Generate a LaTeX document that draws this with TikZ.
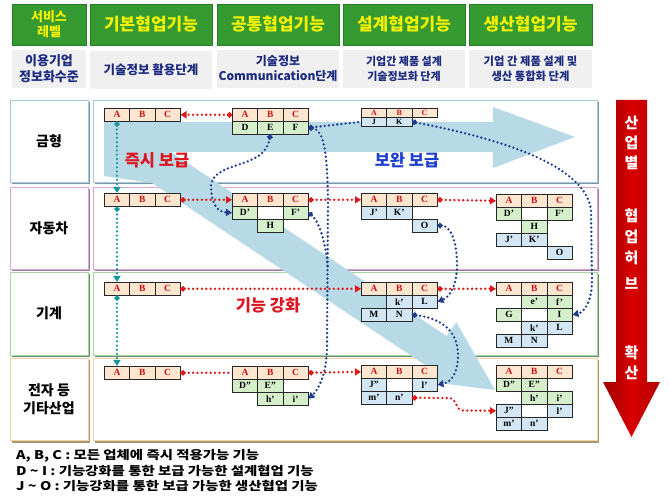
\documentclass[tikz,border=0pt]{standalone}
\usepackage{fontspec}
\setmainfont{Liberation Serif}
\newfontfamily\kr{Noto Sans CJK KR}
\newfontfamily\krw{Noto Sans CJK KR}[FakeStretch=1.2]
\usetikzlibrary{arrows.meta}
\definecolor{hdrgreen}{HTML}{369A33}
\definecolor{hdrborder}{HTML}{2B7A28}
\definecolor{hdrtext}{HTML}{F2F200}
\definecolor{navy}{HTML}{1C2A80}
\definecolor{peach}{HTML}{FCE6CF}
\definecolor{cgreen}{HTML}{D6EFCB}
\definecolor{cblue}{HTML}{D2E6F4}
\definecolor{cred}{HTML}{D01010}
\definecolor{bandblue}{HTML}{B7DAE6}
\definecolor{dotblue}{HTML}{1F3C8F}
\definecolor{dotteal}{HTML}{17989A}
\definecolor{dotred}{HTML}{E01818}
\definecolor{txtblue}{HTML}{1E3FD0}
\definecolor{txtred}{HTML}{E0141E}
\definecolor{rAb}{HTML}{A8C8DC}\definecolor{rAs}{HTML}{7F95A8}
\definecolor{rBb}{HTML}{D9A6D4}\definecolor{rBs}{HTML}{9A7E98}
\definecolor{rCb}{HTML}{A6D7A0}\definecolor{rCs}{HTML}{6E8C6B}
\definecolor{rDb}{HTML}{F1D3A3}\definecolor{rDs}{HTML}{A99677}
\newcommand{\cl}[5]{\node[cel,#4] (#1) at (#2,#3) {#5};}
\begin{document}
\begin{tikzpicture}[x=1pt,y=-1pt,
  hdr/.style={draw=hdrborder, line width=0.8pt, fill=hdrgreen, text=hdrtext, font=\kr\bfseries\fontsize{17}{20}\selectfont, inner sep=0pt, minimum height=41pt, align=center},
  sub/.style={fill=black!6, text=navy, font=\kr\bfseries\fontsize{11}{14}\selectfont, align=center, inner sep=0pt, minimum height=38pt},
  lbl/.style={fill=white, draw=#1, line width=0.8pt, minimum width=78pt, font=\kr\bfseries\fontsize{14}{18}\selectfont, align=center, inner sep=0pt},
  cont/.style={fill=white, draw=#1, line width=0.8pt, minimum width=504pt, inner sep=0pt},
  cel/.style={draw=black!85, line width=0.6pt, anchor=north west, minimum width=25.3pt, minimum height=13pt, inner sep=0pt, font=\bfseries\fontsize{9.5}{10}\selectfont},
  pch/.style={fill=peach, text=cred},
  grn/.style={fill=cgreen},
  blu/.style={fill=cblue},
  wht/.style={fill=white},
  sm/.style={minimum height=9pt, font=\bfseries\fontsize{8}{8}\selectfont},
  tealdot/.style={draw=dotteal, line width=2.5pt, dash pattern=on 0pt off 4.2pt, line cap=round},
  reddot/.style={draw=dotred, line width=2.6pt, dash pattern=on 0pt off 4.4pt, line cap=round},
  bluedot/.style={draw=dotblue, line width=2.6pt, dash pattern=on 0pt off 4.2pt, line cap=round},
  big/.style={font=\kr\bfseries\fontsize{16.5}{18}\selectfont, inner sep=0pt},
  vch/.style={text=white, font=\kr\bfseries\fontsize{15}{16}\selectfont, inner sep=0pt},
  leg/.style={anchor=west, font=\krw\bfseries\fontsize{12}{13}\selectfont, inner sep=0pt}
]
\useasboundingbox (0,0) rectangle (669,502);
% header
\node[hdr, minimum width=74pt, font=\kr\bfseries\fontsize{13}{15}\selectfont] (h1) at (49,24.5) {서비스\\레벨};
\node[hdr, minimum width=122pt] (h2) at (151,24.5) {기본협업기능};
\node[hdr, minimum width=122pt] (h3) at (278,24.5) {공통협업기능};
\node[hdr, minimum width=122pt] (h4) at (404,24.5) {설계협업기능};
\node[hdr, minimum width=123pt] (h5) at (530.5,24.5) {생산협업기능};
% sub header
\node[sub, minimum width=74pt, font=\kr\bfseries\fontsize{13}{16}\selectfont] (s1) at (49,69) {이용기업\\정보화수준};
\node[sub, minimum width=122pt, font=\kr\bfseries\fontsize{12.5}{14}\selectfont] (s2) at (151,70) {기술정보 활용단계};
\node[sub, minimum width=122pt, font=\kr\bfseries\fontsize{12}{15}\selectfont] (s3) at (278,69) {기술정보\\Communication단계};
\node[sub, minimum width=122pt, font=\kr\bfseries\fontsize{11}{15.5}\selectfont] (s4) at (404,69) {기업간 제품 설계\\기술정보화 단계};
\node[sub, minimum width=123pt, font=\kr\bfseries\fontsize{11.3}{15.5}\selectfont] (s5) at (530.5,69) {기업 간 제품 설계 및\\생산 통합화 단계};
% row shadows
\fill[rAs] (11.5,102.5) rectangle (89.5,184.5); \fill[rAs] (94.5,102.5) rectangle (598.5,184.5);
\fill[rBs] (11.5,189.5) rectangle (89.5,271.5); \fill[rBs] (94.5,189.5) rectangle (598.5,271.5);
\fill[rCs] (11.5,274.5) rectangle (89.5,357.5); \fill[rCs] (94.5,274.5) rectangle (598.5,357.5);
\fill[rDs] (11.5,360.5) rectangle (89.5,442.5); \fill[rDs] (94.5,360.5) rectangle (598.5,442.5);
% row boxes
\node[lbl=rAb, minimum height=82pt] (l1) at (49,141) {금형};
\node[cont=rAb, minimum height=82pt] (c1) at (345,141) {};
\node[lbl=rBb, minimum height=82pt] (l2) at (49,228) {자동차};
\node[cont=rBb, minimum height=82pt] (c2) at (345,228) {};
\node[lbl=rCb, minimum height=83pt] (l3) at (49,313.5) {기계};
\node[cont=rCb, minimum height=83pt] (c3) at (345,313.5) {};
\node[lbl=rDb, minimum height=82pt] (l4) at (49,399) {전자 등\\기타산업};
\node[cont=rDb, minimum height=82pt] (c4) at (345,399) {};
% big light-blue arrows
\fill[bandblue] (104,122) -- (493,122) -- (493,107) -- (575,137) -- (493,168) -- (493,152) -- (104,152) -- cycle;
\fill[bandblue] (104,122) -- (126,122) -- (446.8,336.2) -- (456.2,322.1) -- (495,390) -- (417.4,380.3) -- (426.8,366.2) -- (152,183) -- (104,176) -- cycle;
% red arrow
\shade[left color=red!62!black, right color=red!70!black, middle color=red!85!black]
  (616,100) -- (647,100) -- (647,382) -- (660,382) -- (631.5,437) -- (603,382) -- (616,382) -- cycle;
\node[vch] (v1) at (631.5,123) {산};
\node[vch] (v2) at (631.5,143) {업};
\node[vch] (v3) at (631.5,163) {별};
\node[vch] (v4) at (631.5,216) {협};
\node[vch] (v5) at (631.5,237) {업};
\node[vch] (v6) at (631.5,258) {허};
\node[vch] (v7) at (631.5,284) {브};
\node[vch] (v8) at (631.5,353) {확};
\node[vch] (v9) at (631.5,373) {산};
% labels
\node[big, text=txtred] (k1) at (157,160) {즉시 보급};
\node[big, text=txtblue] (k2) at (407,160) {보완 보급};
\node[big, text=txtred] (k3) at (268,305) {기능 강화};
% tables row 1
\cl{t11a}{104}{108}{pch}{A}\cl{t11b}{129.3}{108}{pch}{B}\cl{t11c}{154.6}{108}{pch}{C}
\cl{t12a}{232}{108}{pch}{A}\cl{t12b}{257.3}{108}{pch}{B}\cl{t12c}{282.6}{108}{pch}{C}
\cl{t12d}{232}{121}{grn}{D}\cl{t12e}{257.3}{121}{grn}{E}\cl{t12f}{282.6}{121}{grn}{F}
\cl{t14a}{361}{108}{pch,sm}{A}\cl{t14b}{386.3}{108}{pch,sm}{B}\cl{t14c}{411.6}{108}{pch,sm}{C}
\cl{t14j}{361}{117}{blu,sm}{J}\cl{t14k}{386.3}{117}{blu,sm}{K}
% row 2
\cl{t21a}{104}{193}{pch}{A}\cl{t21b}{129.3}{193}{pch}{B}\cl{t21c}{154.6}{193}{pch}{C}
\cl{t22a}{232}{193}{pch}{A}\cl{t22b}{257.3}{193}{pch}{B}\cl{t22c}{282.6}{193}{pch}{C}
\cl{t22d}{232}{206}{grn}{D’}\cl{t22x}{257.3}{206}{wht}{}\cl{t22f}{282.6}{206}{grn}{F’}
\cl{t22h}{257.3}{219}{grn}{H}
\cl{t23a}{361}{193}{pch}{A}\cl{t23b}{386.3}{193}{pch}{B}\cl{t23c}{411.6}{193}{pch}{C}
\cl{t23j}{361}{206}{blu}{J’}\cl{t23k}{386.3}{206}{blu}{K’}
\cl{t23o}{411.6}{219}{blu}{O}
\cl{t24a}{496}{194}{pch}{A}\cl{t24b}{521.3}{194}{pch}{B}\cl{t24c}{546.6}{194}{pch}{C}
\cl{t24d}{496}{207}{grn}{D’}\cl{t24x}{521.3}{207}{wht}{}\cl{t24f}{546.6}{207}{grn}{F’}
\cl{t24h}{521.3}{220}{grn}{H}
\cl{t24j}{496}{233}{blu}{J’}\cl{t24k}{521.3}{233}{blu}{K’}
\cl{t24o}{546.6}{246}{blu}{O}
% row 3
\cl{t31a}{104}{282}{pch}{A}\cl{t31b}{129.3}{282}{pch}{B}\cl{t31c}{154.6}{282}{pch}{C}
\cl{t33a}{361}{282}{pch}{A}\cl{t33b}{386.3}{282}{pch}{B}\cl{t33c}{411.6}{282}{pch}{C}
\cl{t33k}{386.3}{295}{blu}{k’}\cl{t33l}{411.6}{295}{blu}{L}
\cl{t33m}{361}{308}{blu}{M}\cl{t33n}{386.3}{308}{blu}{N}
\cl{t34a}{496}{282}{pch}{A}\cl{t34b}{521.3}{282}{pch}{B}\cl{t34c}{546.6}{282}{pch}{C}
\cl{t34e}{521.3}{295}{grn}{e’}\cl{t34f}{546.6}{295}{grn}{f’}
\cl{t34g}{496}{308}{grn}{G}\cl{t34x}{521.3}{308}{wht}{}\cl{t34i}{546.6}{308}{grn}{I}
\cl{t34k}{521.3}{321}{blu}{k’}\cl{t34l}{546.6}{321}{blu}{L}
\cl{t34m}{496}{334}{blu}{M}\cl{t34n}{521.3}{334}{blu}{N}
% row 4
\cl{t41a}{104}{366}{pch}{A}\cl{t41b}{129.3}{366}{pch}{B}\cl{t41c}{154.6}{366}{pch}{C}
\cl{t42a}{232}{366}{pch}{A}\cl{t42b}{257.3}{366}{pch}{B}\cl{t42c}{282.6}{366}{pch}{C}
\cl{t42d}{232}{379}{grn}{D”}\cl{t42e}{257.3}{379}{grn}{E”}
\cl{t42h}{257.3}{392}{grn}{h’}\cl{t42i}{282.6}{392}{grn}{i’}
\cl{t43a}{361}{365}{pch}{A}\cl{t43b}{386.3}{365}{pch}{B}\cl{t43c}{411.6}{365}{pch}{C}
\cl{t43j}{361}{378}{blu}{J”}\cl{t43x}{386.3}{378}{wht}{}\cl{t43l}{411.6}{378}{blu}{l’}
\cl{t43m}{361}{391}{blu}{m’}\cl{t43n}{386.3}{391}{blu}{n’}
\cl{t44a}{496}{365}{pch}{A}\cl{t44b}{521.3}{365}{pch}{B}\cl{t44c}{546.6}{365}{pch}{C}
\cl{t44d}{496}{378}{grn}{D”}\cl{t44e}{521.3}{378}{grn}{E”}
\cl{t44h}{521.3}{391}{grn}{h’}\cl{t44i}{546.6}{391}{grn}{i’}
\cl{t44j}{496}{404}{blu}{J”}\cl{t44x}{521.3}{404}{wht}{}\cl{t44l}{546.6}{404}{blu}{l’}
\cl{t44m}{496}{417}{blu}{m’}\cl{t44n}{521.3}{417}{blu}{n’}
% teal connectors
\draw[tealdot, {Circle[length=5pt]}-{Triangle[length=6pt,width=7pt]}] (t11a.south) -- (t21a.north);
\draw[tealdot, {Circle[length=5pt]}-{Triangle[length=6pt,width=7pt]}] (t21a.south) -- (t31a.north);
\draw[tealdot, {Circle[length=5pt]}-{Triangle[length=6pt,width=7pt]}] (t31a.south) -- (t41a.north);
% red connectors
\draw[reddot, {Circle[length=5pt]}-{Triangle[length=6pt,width=7pt]}] (t12a.west) -- (t11c.east);
\draw[reddot, {Circle[length=5pt]}-{Triangle[length=6pt,width=7pt]}] (t21c.east) -- (t22a.west);
\draw[reddot, {Circle[length=5pt]}-{Triangle[length=6pt,width=7pt]}] (t22c.east) -- (t23a.west);
\draw[reddot, {Circle[length=5pt]}-{Triangle[length=6pt,width=7pt]}] (t23c.east) -- (t24a.west);
\draw[reddot, {Circle[length=5pt]}-{Triangle[length=6pt,width=7pt]}] (t31c.east) -- (t33a.west);
\draw[reddot, {Circle[length=5pt]}-{Triangle[length=6pt,width=7pt]}] (t33c.east) -- (t34a.west);
\draw[reddot, {Circle[length=5pt]}-] (t41c.east) -- (t42a.west);
\draw[reddot, {Circle[length=5pt]}-{Triangle[length=6pt,width=7pt]}] (t42c.east) -- (t43a.west);
\draw[reddot, {Circle[length=5pt]}-{Triangle[length=6pt,width=7pt]}] (t43n.east) -- (450,398) .. controls (457,399) and (455,410) .. (463,410.5) -- (t44j.west);
% blue connectors
\draw[bluedot, {Circle[length=5pt]}-{Triangle[length=6pt,width=7pt]}] (t12e.south) .. controls (265,170) and (215,160) .. (211,185) .. controls (211,205) and (218,212) .. (t22d.west);
\draw[bluedot, {Circle[length=5pt]}-] (t12f.east) -- (t14j.west);
\draw[bluedot, {Circle[length=5pt]}-{Triangle[length=6pt,width=7pt]}] (t12f.east) .. controls (324,130) and (327,150) .. (328,200) -- (327,345) .. controls (327,375) and (318,390) .. (t42i.east);
\draw[bluedot, {Circle[length=5pt]}-] (t22f.east) .. controls (318,220) and (326,240) .. (328,270);
\draw[bluedot, {Circle[length=5pt]}-{Triangle[length=6pt,width=7pt]}] (t14k.east) .. controls (480,135) and (585,160) .. (591,210) -- (592,280) .. controls (592,300) and (585,312) .. (t34i.east);
\draw[bluedot, {Circle[length=5pt]}-{Triangle[length=6pt,width=7pt]}] (t23o.east) .. controls (450,225) and (457,240) .. (457,265) .. controls (457,285) and (450,297) .. (t33l.east);
\draw[bluedot, {Circle[length=5pt]}-{Triangle[length=6pt,width=7pt]}] (t33n.east) .. controls (440,318) and (458,330) .. (458,355) .. controls (458,372) and (452,382) .. (t43l.east);
% legend
\node[leg] (g1) at (16,456) {A, B, C : 모든 업체에 즉시 적용가능 기능};
\node[leg] (g2) at (16,471) {D \textasciitilde{} I : 기능강화를 통한 보급 가능한 설계협업 기능};
\node[leg] (g3) at (16,486) {J \textasciitilde{} O : 기능강화를 통한 보급 가능한 생산협업 기능};
\end{tikzpicture}
\end{document}
